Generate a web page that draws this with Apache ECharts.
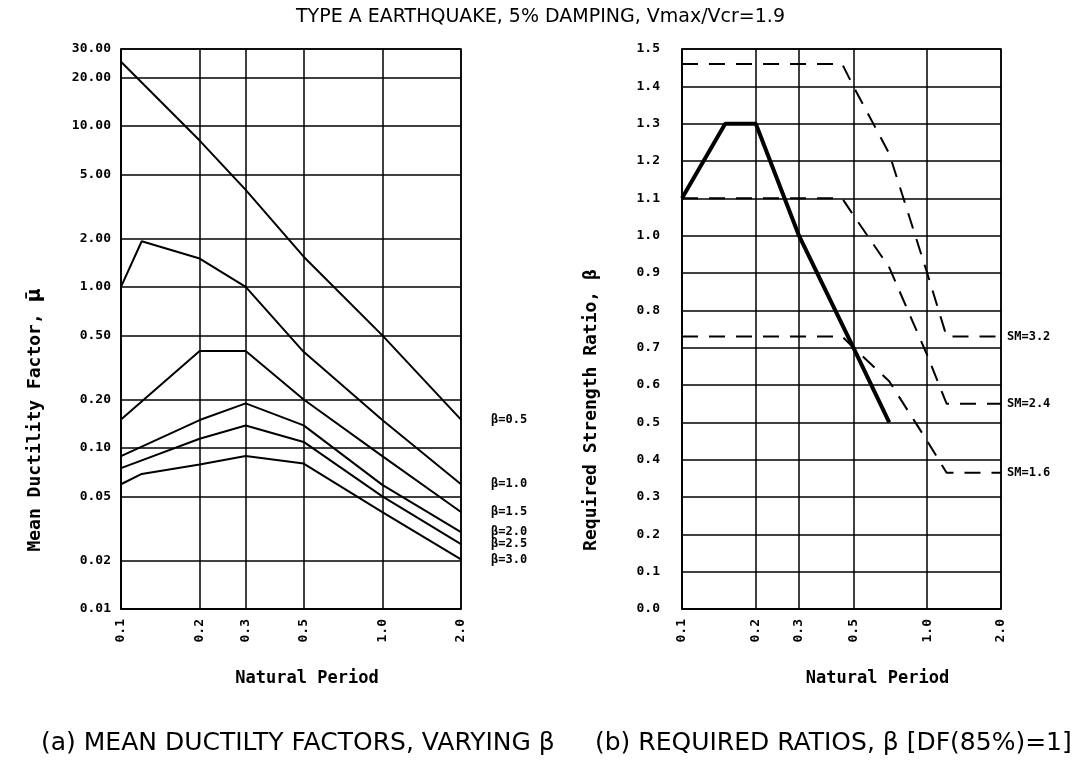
<!DOCTYPE html>
<html>
<head>
<meta charset="utf-8">
<script src="https://cdn.jsdelivr.net/npm/echarts@6/dist/echarts.min.js"></script>
<style>
  html, body { margin: 0; padding: 0; background: #fff; }
  #main { width: 1081px; height: 762px; }
</style>
</head>
<body>
<div id="main"></div>
<script>
// (a) mean ductility factor vs natural period, one line per beta
var periods = [0.1, 0.12, 0.2, 0.3, 0.5, 1.0, 2.0];
var beta05 = [25, null, 8.1, 4.0, 1.54, 0.5, 0.15];
var beta10 = [1.0, 1.92, 1.5, 1.0, 0.395, 0.149, 0.0595];
var beta15 = [0.15, null, 0.40, 0.40, 0.20, 0.089, 0.040];
var beta20 = [0.089, null, 0.149, 0.189, 0.138, 0.059, 0.030];
var beta25 = [0.075, null, 0.114, 0.138, 0.109, 0.050, 0.0253];
var beta30 = [0.0595, 0.069, 0.079, 0.089, 0.080, 0.040, 0.0203];
var betaNames = ['β=0.5', 'β=1.0', 'β=1.5', 'β=2.0', 'β=2.5', 'β=3.0'];

// (b) required strength ratio
var ratioPeriods = [0.1, 0.15, 0.2, 0.3, 0.5, 0.7];
var requiredRatio = [1.1, 1.3, 1.3, 1.0, 0.7, 0.5];
var smPeriods = [0.1, 0.45, 0.5, 0.7, 1.0, 1.2, 2.0];
var sm32 = [1.46, 1.46, 1.40, 1.22, 0.90, 0.73, 0.73];
var sm24 = [1.10, 1.10, 1.055, 0.915, 0.68, 0.55, 0.55];
var sm16 = [0.73, 0.73, 0.70, 0.61, 0.45, 0.365, 0.365];
var smNames = ['SM=3.2', 'SM=2.4', 'SM=1.6'];

// tick labels
var periodTicks = [0.1, 0.2, 0.3, 0.5, 1.0, 2.0];
var ductilityTicks = [0.01, 0.02, 0.05, 0.1, 0.2, 0.5, 1, 2, 5, 10, 20, 30];

var mono = 'DejaVu Sans Mono';

function pairs(xs, ys) {
    var out = [];
    for (var i = 0; i < xs.length; i++) {
        if (ys[i] != null) out.push([xs[i], ys[i]]);
    }
    return out;
}

function periodAxis(idx) {
    return {
        type: 'log', logBase: 10, gridIndex: idx, min: 0.1, max: 2.0,
        name: 'Natural Period', nameLocation: 'middle', nameGap: 61,
        nameTextStyle: { fontFamily: mono, fontWeight: 'bold', fontSize: 17, color: '#000',
            padding: idx === 0 ? [0, 0, 0, 32] : [0, 0, 0, 72] },
        axisLine: { show: true, lineStyle: { color: '#000', width: 1.5 } },
        axisTick: { show: false, customValues: periodTicks },
        axisLabel: { customValues: periodTicks, rotate: 90, margin: 10, color: '#000',
            fontFamily: mono, fontWeight: 'bold', fontSize: 13,
            formatter: function (v) { return Number(v).toFixed(1); } },
        splitLine: { show: true, lineStyle: { color: '#000', width: 1.5 } }
    };
}

var leftData = [beta05, beta10, beta15, beta20, beta25, beta30];
var series = leftData.map(function (vals, i) {
    return {
        name: betaNames[i], type: 'line', xAxisIndex: 0, yAxisIndex: 0,
        data: pairs(periods, vals), symbol: 'none', silent: true,
        lineStyle: { color: '#000', width: 2 },
        endLabel: { show: true, formatter: '{a}', distance: 30, color: '#000',
            fontFamily: mono, fontWeight: 'bold', fontSize: 12 }
    };
});

series.push({
    name: 'required', type: 'line', xAxisIndex: 1, yAxisIndex: 1,
    data: pairs(ratioPeriods, requiredRatio), symbol: 'none', silent: true,
    lineStyle: { color: '#000', width: 4 }
});
[sm32, sm24, sm16].forEach(function (vals, i) {
    series.push({
        name: smNames[i], type: 'line', xAxisIndex: 1, yAxisIndex: 1,
        data: pairs(smPeriods, vals), symbol: 'none', silent: true,
        lineStyle: { color: '#000', width: 2, type: [16, 11] },
        endLabel: { show: true, formatter: '{a}', distance: 6, color: '#000',
            fontFamily: mono, fontWeight: 'bold', fontSize: 12 }
    });
});

var myChart = echarts.init(document.getElementById('main'));

var option = {
    backgroundColor: '#fff',
    animation: false,
    title: [
        { text: 'TYPE A EARTHQUAKE, 5% DAMPING, Vmax/Vcr=1.9', left: 'center', top: 3,
          textStyle: { fontFamily: 'DejaVu Sans', fontWeight: 'normal', fontSize: 19, color: '#000' } },
        { text: '(a) MEAN DUCTILTY FACTORS, VARYING β', left: 36, top: 726,
          textStyle: { fontFamily: 'DejaVu Sans', fontWeight: 'normal', fontSize: 25, color: '#000' } },
        { text: '(b) REQUIRED RATIOS, β [DF(85%)=1]', left: 590, top: 726,
          textStyle: { fontFamily: 'DejaVu Sans', fontWeight: 'normal', fontSize: 25, color: '#000' } }
    ],
    grid: [
        { left: 121, top: 49, width: 340, height: 560, show: true, borderColor: '#000', borderWidth: 1.5,
          outerBoundsMode: 'none' },
        { left: 682, top: 49, width: 319, height: 560, show: true, borderColor: '#000', borderWidth: 1.5,
          outerBoundsMode: 'none' }
    ],
    xAxis: [periodAxis(0), periodAxis(1)],
    yAxis: [
        {
            type: 'log', logBase: 10, gridIndex: 0, min: 0.01, max: 30,
            name: '{t|Mean Ductility Factor, }{m|μ̄}', nameLocation: 'middle', nameGap: 76, nameRotate: 90,
            nameTextStyle: { fontFamily: mono, fontWeight: 'bold', fontSize: 18, color: '#000',
                padding: [0, 182, 0, 0],
                rich: {
                    t: { fontFamily: mono, fontWeight: 'bold', fontSize: 18, color: '#000' },
                    m: { fontFamily: 'DejaVu Sans', fontWeight: 'bold', fontSize: 19, color: '#000' }
                } },
            axisLine: { show: true, lineStyle: { color: '#000', width: 1.5 } },
            axisTick: { show: false, customValues: ductilityTicks },
            axisLabel: { customValues: ductilityTicks, margin: 10, color: '#000',
                fontFamily: mono, fontWeight: 'bold', fontSize: 13,
                formatter: function (v) { return Number(v).toFixed(2); } },
            splitLine: { show: true, lineStyle: { color: '#000', width: 1.5 } }
        },
        {
            type: 'value', gridIndex: 1, min: 0, max: 1.5, interval: 0.1,
            name: 'Required Strength Ratio, β', nameLocation: 'middle', nameGap: 82, nameRotate: 90,
            nameTextStyle: { fontFamily: mono, fontWeight: 'bold', fontSize: 18, color: '#000',
                padding: [0, 162, 0, 0] },
            axisLine: { show: true, lineStyle: { color: '#000', width: 1.5 } },
            axisTick: { show: false },
            axisLabel: { margin: 22, color: '#000', fontFamily: mono, fontWeight: 'bold', fontSize: 13,
                formatter: function (v) { return Number(v).toFixed(1); } },
            splitLine: { show: true, lineStyle: { color: '#000', width: 1.5 } }
        }
    ],
    series: series
};
myChart.setOption(option);
</script>
</body>
</html>
